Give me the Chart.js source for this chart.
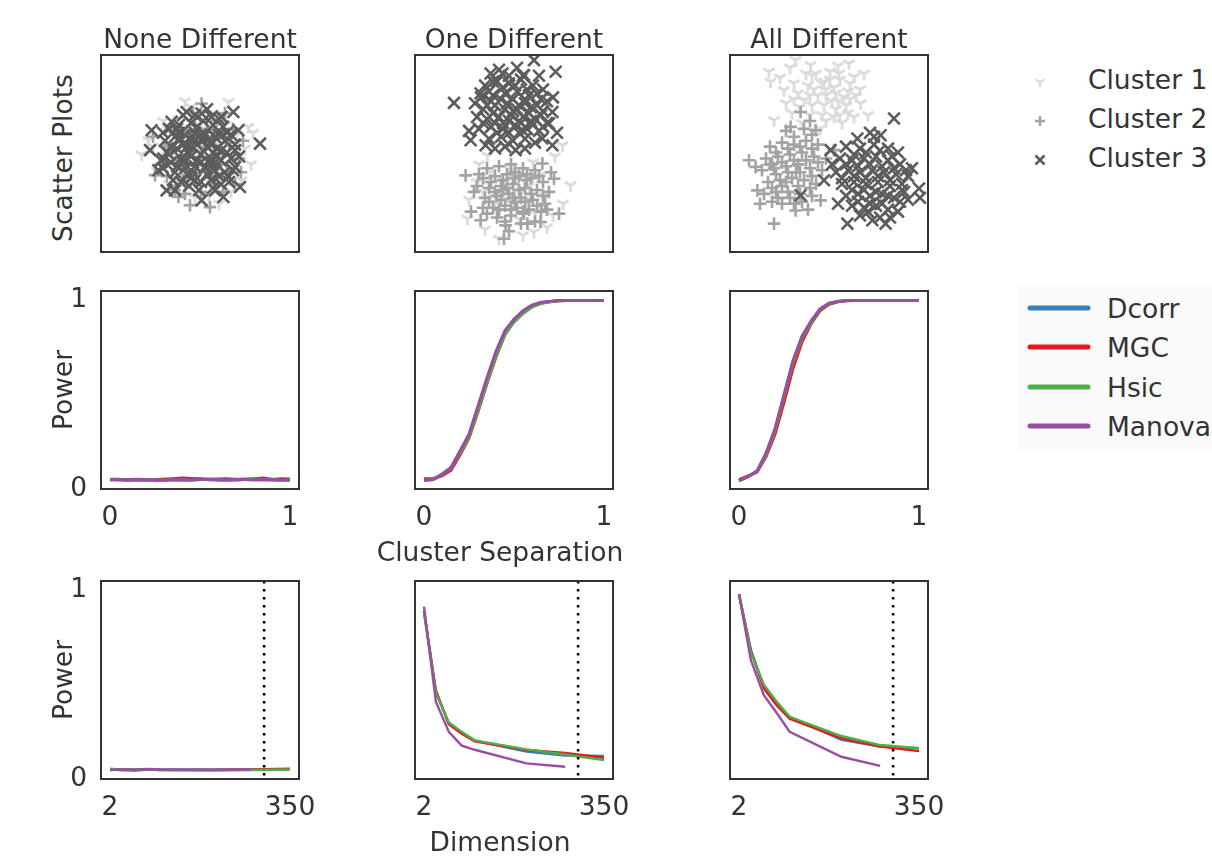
<!DOCTYPE html>
<html>
<head>
<meta charset="utf-8">
<script src="https://cdn.jsdelivr.net/npm/chart.js@4.4.1/dist/chart.umd.min.js"></script>
<style>
  body { margin: 0; background: #fff; width: 1212px; height: 857px; position: relative; overflow: hidden;
         font-family: "DejaVu Sans", sans-serif; color: #333; }
  canvas { position: absolute; }
  .lbl { position: absolute; font-size: 26.5px; white-space: nowrap; transform: translate(-50%, -50%); }
  .rot { transform: translate(-50%, -50%) rotate(-90deg); }
  .leg { position: absolute; font-size: 26.5px; white-space: nowrap; transform: translateY(-50%); }
  .legbox { position: absolute; left: 1018px; top: 284px; width: 200px; height: 168px; background: #fafafa; border-radius: 4px; }
  svg { position: absolute; overflow: visible; }
</style>
</head>
<body>
<div class="legbox"></div>
<script>
// ---- data ----
const colTitles = ['None Different', 'One Different', 'All Different'];
const clusterNames = ['Cluster 1', 'Cluster 2', 'Cluster 3'];
const methods = ['Dcorr', 'MGC', 'Hsic', 'Manova'];
const methodColors = ['#377eb8', '#e41a1c', '#4daf4a', '#984ea3'];

// scatter samples (x, y) per cluster
const none1 = [[1.37,2.57],[2.37,1.3],[-2.97,-0.1],[-2.63,0.63],[1.87,-0.22],[2.03,-1.41],[0.9,-2.6],[-0.5,2.3],[-1.9,1.6],[-1.6,-1.6],[0.4,-2.2],[2.2,0.2],[-2.2,-0.9],[1.2,1.4],[-0.9,0.8],[0.7,-0.9],[-0.2,-0.6],[0.2,1.1],[1.6,-0.8],[-1.4,0.1],[-0.6,-1.6],[1.0,0.4],[-1.1,1.7],[0.6,2.0],[2.5,-0.6],[-2.4,0.3],[-0.3,-2.3],[1.5,-2.0],[-1.0,-0.9],[0.1,0.0],[2.6,1.0],[-1.7,-0.2],[0.9,-1.4],[-0.8,2.6],[0.3,-1.2],[1.8,0.9]];
const none2 = [[0.03,2.49],[-2.3,-1.15],[-0.55,-2.68],[0.45,-2.77],[-1.13,-2.26],[-1.8,0.3],[1.9,-0.3],[1.3,-1.0],[-0.9,-1.4],[-1.5,1.3],[0.8,1.6],[1.6,1.2],[-0.3,1.4],[0.5,-1.2],[-2.0,-0.6],[2.1,0.6],[1.1,-2.0],[-1.3,-1.9],[0.2,0.3],[-0.6,0.5],[0.9,0.1],[-1.0,-0.4],[0.4,-0.6],[-0.2,-1.0],[1.4,0.5],[-1.2,0.9],[0.6,1.0],[-0.4,2.0],[1.2,2.0],[-2.4,0.8],[0.0,-2.0],[1.7,-1.6],[-0.8,-2.1],[2.0,-1.0],[-1.7,-1.2],[0.3,1.2],[-0.7,1.1],[1.0,-0.6],[-0.1,-0.3],[0.7,-1.6]];
const none3 = [[-2.47,1.13],[-1.47,1.56],[-0.72,2.06],[0.03,1.98],[1.62,2.06],[1.87,1.13],[2.95,0.45],[-2.55,0.12],[-1.88,-0.31],[-1.72,-1.92],[-1.3,-1.92],[0.03,-2.43],[1.12,-2.26],[1.95,-1.75],[1.7,0.12],[1.37,-1.24],[0.53,1.81],[-0.8,-0.39],[-2.13,-0.9],[1.7,-0.73],[1.03,1.81],[-0.3,-1.41],[-1.13,0.63],[0.7,-1.92],
  [-1.6,1.2],[-1.1,1.4],[-0.5,1.5],[0.1,1.6],[0.6,1.4],[1.1,1.3],[1.5,0.9],[-1.8,0.6],[-1.3,0.8],[-0.8,0.9],[-0.3,1.0],[0.2,0.9],[0.7,0.8],[1.2,0.6],
  [-1.7,0.0],[-1.2,0.2],[-0.7,0.3],[-0.2,0.4],[0.3,0.3],[0.8,0.2],[1.3,0.0],[-1.5,-0.5],[-1.0,-0.3],[-0.5,-0.2],[0.0,-0.1],[0.5,-0.3],[1.0,-0.4],[1.5,-0.3],
  [-1.3,-1.0],[-0.8,-0.8],[-0.3,-0.7],[0.2,-0.8],[0.7,-0.9],[1.2,-1.0],[-1.0,-1.5],[-0.5,-1.3],[0.0,-1.5],[0.5,-1.4],[1.0,-1.6],[-0.9,1.9],[-0.3,1.9],[0.3,2.2],[0.9,1.7],
  [-0.4,0.6],[0.4,-0.5],[-0.9,-0.5],[0.9,0.9],[-1.4,-1.4],[1.4,-1.5],[-1.9,1.0],[1.7,0.4],[-0.1,-1.9],[-0.6,-1.7],[0.6,-1.8],[-1.1,1.0],[0.1,0.6],[-0.2,-0.4],[0.6,0.0],[-0.6,0.0],[1.9,-0.2],[-2.0,-0.4],
  [-1.5,0.3],[-1.0,0.7],[-0.4,0.8],[0.4,0.7],[1.0,0.1],[-0.7,-1.1],[0.3,-1.1],[0.8,-0.2],[-1.2,-0.7],[0.0,0.9],[-0.9,0.4],[0.5,0.4],[1.3,1.0],[-1.6,-0.1],[0.0,-0.5],[-0.4,-1.0],[0.9,-1.2],[1.1,0.9],[-0.2,1.3],[-1.2,1.2],[0.6,-0.6],[-0.5,0.3],[1.6,-0.9],[-1.9,-0.8]];

const one1 = [[2.78,-1.66],[-2.38,-3.36],[0.95,-4.04],[-0.8,-4.38],[-1.38,-0.16],[2.37,0.37],[0.3,0.2],[-1.9,-1.5],[-1.0,-2.6],[0.2,-3.4],[1.5,-2.2],[0.9,-0.5],[-0.5,-1.4],[1.9,-3.2],[-1.5,-3.9],[-2.3,-2.4],[0.6,-2.6],[-0.2,-0.9],[1.2,-1.2],[-1.2,-1.0],[0.0,-1.9],[-0.8,-3.0],[1.6,-3.8],[-1.8,-0.6],[2.4,-2.6],[0.4,-4.2],[-0.4,-2.4],[1.0,-3.1],[-1.6,-2.0],[0.7,-1.7],[2.0,-0.2]];
const one2 = [[-2.47,-1.16],[-2.05,-2.0],[1.95,-1.33],[2.2,-3.1],[-1.72,-3.44],[-0.47,-3.7],[-0.55,-4.38],[0.62,-3.61],[1.28,-3.53],[1.37,-0.56],[0.45,-3.1],[-2.2,-3.0],
  [-1.4,-0.8],[-0.8,-0.7],[-0.2,-0.6],[0.4,-0.8],[1.0,-0.9],[-1.6,-1.3],[-1.0,-1.2],[-0.4,-1.1],[0.2,-1.2],[0.8,-1.3],[1.4,-1.5],
  [-1.3,-1.8],[-0.7,-1.7],[-0.1,-1.6],[0.5,-1.8],[1.1,-1.9],[1.7,-2.0],[-1.5,-2.3],[-0.9,-2.2],[-0.3,-2.1],[0.3,-2.3],[0.9,-2.4],[1.5,-2.6],
  [-1.1,-2.8],[-0.5,-2.7],[0.1,-2.8],[0.7,-2.9],[1.3,-3.0],[-0.9,-3.3],[-0.2,-3.2],[1.0,-3.5],[-1.4,-3.1],[-0.6,-1.9],[0.0,-2.5],[0.6,-1.4],[-1.9,-1.7],[1.8,-1.0],[-0.3,-4.0],
  [-1.2,-1.5],[-0.6,-1.4],[0.0,-1.3],[0.6,-1.1],[1.2,-1.2],[-1.0,-2.0],[-0.4,-1.8],[0.2,-1.9],[0.8,-2.1],[1.4,-2.2],[-1.3,-2.5],[-0.7,-2.4],[-0.1,-2.3],[0.5,-2.5],[1.1,-2.7],[-0.8,-2.9],[-0.2,-2.9],[0.4,-3.0],[1.6,-2.9],[-1.6,-2.8],[-0.5,-3.5],[0.3,-3.6],[-1.8,-1.1],[0.0,-1.0]];
const one3 = [[-3.05,2.52],[0.95,4.69],[2.03,4.1],[-0.63,4.01],[0.45,3.93],[-1.22,4.01],[-2.22,0.62],[-1.47,0.37],[1.37,0.71],[1.87,0.37],[0.03,0.12],[-1.72,3.0],[1.87,2.06],[1.7,1.47],
  [-1.5,3.4],[-0.9,3.6],[-0.3,3.5],[0.3,3.7],[0.9,3.4],[1.4,3.2],[-1.7,2.8],[-1.1,2.9],[-0.5,3.0],[0.1,3.1],[0.7,2.9],[1.3,2.7],
  [-1.6,2.2],[-1.0,2.4],[-0.4,2.5],[0.2,2.4],[0.8,2.3],[1.4,2.1],[-1.4,1.7],[-0.8,1.8],[-0.2,1.9],[0.4,1.8],[1.0,1.7],[1.6,1.5],
  [-1.8,1.2],[-1.2,1.3],[-0.6,1.2],[0.0,1.4],[0.6,1.2],[1.2,1.1],[-1.3,0.7],[-0.7,0.8],[-0.1,0.6],[0.5,0.7],[1.0,0.5],[-0.5,0.3],[0.5,0.2],[-1.0,0.2],
  [-1.9,1.8],[-2.0,2.5],[1.9,2.8],[-0.8,4.2],[0.1,4.3],[1.2,3.9],[-0.1,2.1],[0.5,2.7],[-0.6,1.5],[0.9,1.4],[-1.2,2.6],[0.2,1.0],[-0.3,3.9],[1.6,2.6],[-2.3,1.1],[2.1,1.0],
  [-1.3,3.1],[-0.6,3.3],[0.0,3.4],[0.6,3.2],[1.1,3.0],[-1.4,2.4],[-0.7,2.7],[-0.1,2.7],[0.5,2.5],[1.1,2.4],[-1.1,2.0],[-0.5,2.2],[0.1,2.2],[0.7,2.0],[1.3,1.9],[-1.6,1.5],[-1.0,1.5],[-0.3,1.6],[0.3,1.5],[0.8,1.6],[-0.9,1.0],[-0.3,1.0],[0.4,1.1],[1.4,1.3],[-1.1,3.6],[0.4,3.9]];

const all1 = [[-1.72,4.69],[-0.97,4.44],[0.95,4.52],[-3.05,4.1],[1.2,3.84],[-2.3,3.17],[-2.97,3.59],[-1.8,3.51],[-2.8,1.64],[1.53,2.49],[0.45,4.01],[-0.3,3.59],[-1.3,2.66],[0.2,1.81],
  [-0.9,3.9],[0.0,4.1],[-2.2,2.5],[-1.6,3.0],[-0.8,3.2],[0.2,3.3],[0.9,3.1],[1.5,3.2],[-1.9,2.0],[-0.9,2.4],[0.1,2.6],[0.8,2.4],[1.9,1.9],[-1.4,1.5],[-0.4,1.9],[0.6,1.5],
  [1.2,1.8],[-0.2,2.9],[0.5,3.7],[-1.2,4.0],[-2.5,3.8],[-0.5,1.2],[1.7,4.0],[0.9,2.0],[-0.6,2.9],[0.3,2.2],[-1.0,1.9],[1.3,2.9],[-2.0,4.3],[0.4,4.4],[-0.2,3.2],[0.7,2.8],
  [-1.1,3.4],[-0.4,3.5],[0.3,3.0],[1.0,2.7],[-1.5,2.3],[-0.3,2.4],[0.5,1.9],[-1.0,2.9],[0.0,3.7],[-0.7,4.0],[1.0,3.5],[-1.8,2.7],[0.4,2.6],[-0.2,1.6]];
const all2 = [[-4.05,-0.39],[-3.72,-0.73],[-1.47,2.06],[-1.97,1.3],[-0.72,1.13],[-2.8,-3.61],[-1.72,-2.94],[-3.63,-1.92],[0.2,0.12],[-0.47,-2.43],[-2.9,-2.5],
  [-3.0,0.3],[-2.4,0.5],[-1.8,0.4],[-1.2,0.6],[-0.6,0.4],[-3.2,-0.3],[-2.6,-0.2],[-2.0,-0.1],[-1.4,0.0],[-0.8,-0.2],[-0.2,-0.3],
  [-3.4,-0.9],[-2.8,-0.8],[-2.2,-0.7],[-1.6,-0.6],[-1.0,-0.8],[-0.4,-0.9],[-3.1,-1.5],[-2.5,-1.4],[-1.9,-1.3],[-1.3,-1.4],[-0.7,-1.6],
  [-3.3,-2.1],[-2.7,-2.0],[-2.1,-2.0],[-1.5,-2.1],[-0.9,-2.2],[-2.4,-2.6],[-1.8,-2.6],[-3.5,-2.6],[-1.1,-2.9],[-2.2,1.1],[-1.0,1.6],[-0.9,0.9],[-2.9,-0.6],[-1.7,-1.0],[-2.4,-1.7],
  [-2.7,0.0],[-2.1,0.2],[-1.5,0.3],[-0.9,0.2],[-3.0,-0.6],[-2.4,-0.5],[-1.8,-0.4],[-1.2,-0.4],[-0.6,-0.5],[-2.7,-1.1],[-2.1,-1.0],[-1.5,-1.0],[-0.9,-1.2],[-2.9,-1.8],[-2.2,-1.5],[-1.6,-1.7],[-1.0,-1.8],[-2.6,-2.3],[-2.0,-2.3],[-1.4,-2.5],[-1.8,0.8],[-1.3,1.2]];
const all3 = [[3.2,1.73],[-1.47,-2.17],[4.45,-1.83],[4.5,-2.3],[2.78,-3.61],[2.12,-3.44],[0.87,-3.61],[-0.3,-1.41],[0.03,0.12],[1.37,0.71],[2.53,0.88],[3.7,-2.0],[3.9,-2.4],
  [0.8,0.3],[1.5,0.2],[2.2,0.4],[2.9,0.2],[3.4,0.0],[0.5,-0.3],[1.1,-0.4],[1.7,-0.3],[2.3,-0.2],[2.9,-0.4],[3.5,-0.6],
  [0.3,-1.0],[0.9,-0.9],[1.5,-1.0],[2.1,-0.9],[2.7,-1.0],[3.3,-1.1],[3.9,-1.2],[0.6,-1.6],[1.2,-1.5],[1.8,-1.6],[2.4,-1.5],[3.0,-1.7],[3.6,-1.6],
  [0.8,-2.2],[1.4,-2.1],[2.0,-2.2],[2.6,-2.1],[3.2,-2.3],[1.1,-2.7],[1.7,-2.8],[2.3,-2.7],[2.9,-2.9],[3.4,-3.0],[1.5,-3.2],[2.5,-3.3],
  [0.1,-0.6],[4.1,-0.8],[2.0,1.0],[3.0,-3.3],[0.4,-2.6],
  [1.2,-0.1],[1.8,0.0],[2.5,0.1],[3.1,-0.2],[0.8,-0.6],[1.4,-0.7],[2.0,-0.6],[2.6,-0.7],[3.2,-0.8],[3.8,-0.9],[0.6,-1.3],[1.2,-1.2],[1.8,-1.3],[2.4,-1.2],[3.0,-1.4],[3.6,-1.9],[1.1,-1.9],[1.7,-1.9],[2.3,-2.0],[2.9,-2.2],[3.5,-2.5],[1.4,-2.5],[2.0,-2.6],[2.6,-2.6],[1.9,-3.0],[2.2,0.8]];

// power vs cluster separation
const sepX = [0,0.05,0.1,0.15,0.2,0.25,0.3,0.35,0.4,0.45,0.5,0.55,0.6,0.65,0.7,0.75,0.8,0.85,0.9,0.95,1];
const sepNone = [
  [0.05,0.052,0.048,0.05,0.047,0.05,0.053,0.05,0.048,0.05,0.052,0.049,0.05,0.047,0.05,0.052,0.05,0.048,0.05,0.051,0.048],
  [0.052,0.05,0.046,0.05,0.048,0.044,0.05,0.055,0.058,0.056,0.055,0.05,0.053,0.055,0.05,0.052,0.055,0.058,0.05,0.055,0.053],
  [0.048,0.05,0.044,0.046,0.045,0.046,0.048,0.047,0.046,0.047,0.05,0.05,0.046,0.045,0.047,0.05,0.052,0.05,0.046,0.045,0.047],
  [0.05,0.048,0.05,0.052,0.05,0.048,0.046,0.05,0.05,0.048,0.05,0.053,0.05,0.05,0.052,0.05,0.048,0.05,0.052,0.048,0.05]];
const sepOne = [
  [0.05,0.05,0.08,0.115,0.2,0.285,0.43,0.58,0.72,0.83,0.9,0.94,0.972,0.988,0.995,1,1,1,1,1,1],
  [0.055,0.055,0.07,0.1,0.18,0.27,0.41,0.56,0.7,0.82,0.89,0.935,0.968,0.985,0.993,0.998,1,1,1,1,1],
  [0.045,0.05,0.075,0.11,0.19,0.275,0.415,0.565,0.705,0.82,0.885,0.93,0.965,0.985,0.993,0.998,1,1,1,1,1],
  [0.045,0.05,0.075,0.11,0.2,0.29,0.44,0.59,0.73,0.84,0.9,0.945,0.975,0.99,0.995,1,1,1,1,1,1]];
const sepAll = [
  [0.045,0.065,0.095,0.185,0.315,0.49,0.675,0.805,0.885,0.952,0.984,0.995,1,1,1,1,1,1,1,1,1],
  [0.05,0.07,0.09,0.17,0.29,0.46,0.64,0.78,0.875,0.945,0.98,0.993,0.998,1,1,1,1,1,1,1,1],
  [0.045,0.065,0.093,0.18,0.31,0.49,0.67,0.8,0.88,0.95,0.983,0.995,1,1,1,1,1,1,1,1,1],
  [0.045,0.065,0.095,0.19,0.32,0.5,0.68,0.81,0.89,0.955,0.985,0.995,1,1,1,1,1,1,1,1,1]];

// power vs dimension
const dimX = [2,25,50,75,100,200,275,350];
const dimNone = [
  [0.05,0.048,0.05,0.053,0.05,0.049,0.05,0.051],
  [0.05,0.048,0.045,0.05,0.048,0.047,0.05,0.055],
  [0.055,0.05,0.048,0.05,0.047,0.045,0.048,0.05],
  [0.048,0.05,0.05,0.052,0.05,0.05,0.05,null]];
const dimOne = [
  [0.89,0.46,0.295,0.245,0.203,0.146,0.125,0.122],
  [0.89,0.47,0.29,0.24,0.2,0.154,0.138,0.113],
  [0.88,0.455,0.3,0.25,0.205,0.157,0.13,0.1],
  [0.914,0.41,0.25,0.177,0.155,0.083,0.065,null]];
const dimAll = [
  [0.98,0.684,0.49,0.4,0.33,0.207,0.172,0.163],
  [0.98,0.68,0.48,0.39,0.32,0.216,0.172,0.148],
  [0.98,0.67,0.5,0.41,0.33,0.228,0.18,0.163],
  [0.98,0.63,0.445,0.35,0.25,0.118,0.07,null]];
const dimCutoff = 300;

const sepTicks = [0, 1];
const dimTicks = [2, 350];
const powerTicks = [0, 1];

// ---- layout ----
const colLeft = [101, 415, 730];
const rowTop = [55, 291, 581];
const rowBottom = [252, 489, 779];
const panelW = 198;
const FONT = 'DejaVu Sans';
const TEXT = '#333';
const FSIZE = 26.5;

function makeCanvas(left, top, w, h) {
  const c = document.createElement('canvas');
  c.width = w; c.height = h;
  c.style.left = left + 'px'; c.style.top = top + 'px';
  c.style.width = w + 'px'; c.style.height = h + 'px';
  document.body.appendChild(c);
  return c;
}

function addText(txt, x, y, cls) {
  const d = document.createElement('div');
  d.className = cls || 'lbl';
  d.textContent = txt;
  d.style.left = x + 'px'; d.style.top = y + 'px';
  document.body.appendChild(d);
}

const framePlugin = {
  id: 'frame',
  afterDatasetsDraw(chart) {
    const a = chart.chartArea, ctx = chart.ctx;
    ctx.save();
    ctx.strokeStyle = '#333';
    ctx.lineWidth = 2;
    ctx.strokeRect(a.left, a.top, a.right - a.left, a.bottom - a.top);
    ctx.restore();
  }
};

// matplotlib style "tri_down" marker
function triDown(color, size, lw) {
  const c = document.createElement('canvas');
  c.width = c.height = size;
  const g = c.getContext('2d');
  const m = size / 2, r = size / 2 - 1;
  g.strokeStyle = color; g.lineWidth = lw;
  g.beginPath();
  g.moveTo(m, m); g.lineTo(m, m + r);
  g.moveTo(m, m); g.lineTo(m - r * 0.866, m - r * 0.5);
  g.moveTo(m, m); g.lineTo(m + r * 0.866, m - r * 0.5);
  g.stroke();
  return c;
}

const c1Color = '#d9d9d9', c2Color = '#a3a3a3', c3Color = '#5c5c5c';
const triImg = triDown(c1Color, 15, 2.6);

const toXY = pts => pts.map(p => ({ x: p[0], y: p[1] }));

function scatterPanel(col, sets) {
  const pad = 10;
  const h = rowBottom[0] - rowTop[0];
  const cv = makeCanvas(colLeft[col] - pad, rowTop[0] - pad, panelW + 2 * pad, h + 2 * pad);
  new Chart(cv, {
    type: 'scatter',
    data: {
      datasets: [
        { label: clusterNames[0], data: toXY(sets[0]), pointStyle: triImg, pointRadius: 7, order: 3 },
        { label: clusterNames[1], data: toXY(sets[1]), pointStyle: 'cross', pointRadius: 6.3,
          pointBorderWidth: 2.6, pointBorderColor: c2Color, order: 2 },
        { label: clusterNames[2], data: toXY(sets[2]), pointStyle: 'crossRot', pointRadius: 8.3,
          pointBorderWidth: 2.6, pointBorderColor: c3Color, order: 1 }
      ]
    },
    options: {
      responsive: false, animation: false, events: [],
      layout: { padding: pad, autoPadding: false },
      scales: {
        x: { type: 'linear', min: -5, max: 4.9, display: false },
        y: { type: 'linear', min: -5.05, max: 4.95, display: false }
      },
      plugins: { legend: { display: false }, tooltip: { enabled: false } }
    },
    plugins: [framePlugin]
  });
}

function linePanel(row, col, xs, ys, xTicks, xMin, xMax, lw, cutoff) {
  const padL = 60, padR = 45, padT = 30, padB = 60;
  const h = rowBottom[row] - rowTop[row];
  const cv = makeCanvas(colLeft[col] - padL, rowTop[row] - padT, padL + panelW + padR, padT + h + padB);
  const datasets = methods.map((m, i) => ({
    label: m,
    data: xs.map((x, j) => ({ x: x, y: ys[i][j] })),
    borderColor: methodColors[i],
    borderWidth: lw,
    pointRadius: 0,
    tension: 0,
    fill: false,
    order: 4 - i
  }));
  if (cutoff !== undefined) {
    datasets.push({
      label: 'cutoff',
      data: [{ x: cutoff, y: 1.05 }, { x: cutoff, y: 0 }],
      borderColor: '#000', borderWidth: 2.6, borderDash: [2.6, 5.4],
      pointRadius: 0, order: 0
    });
  }
  const tickFont = { family: FONT, size: FSIZE };
  new Chart(cv, {
    type: 'line',
    data: { datasets },
    options: {
      responsive: false, animation: false, events: [],
      layout: { padding: { left: 0, right: padR, top: padT, bottom: 0 }, autoPadding: false },
      scales: {
        x: {
          type: 'linear', min: xMin, max: xMax,
          afterBuildTicks: s => { s.ticks = xTicks.map(v => ({ value: v })); },
          afterFit: s => { s.height = padB; },
          grid: { display: false, drawTicks: false }, border: { display: false },
          ticks: { padding: 13, maxRotation: 0, autoSkip: false,
                   font: tickFont, color: TEXT, callback: v => String(v) }
        },
        y: {
          type: 'linear', min: 0, max: 1.05,
          afterBuildTicks: s => { s.ticks = powerTicks.map(v => ({ value: v })); },
          afterFit: s => { s.width = padL; },
          grid: { display: false, drawTicks: false }, border: { display: false },
          ticks: { display: col === 0, padding: 14, font: tickFont, color: TEXT, callback: v => String(v) }
        }
      },
      plugins: { legend: { display: false }, tooltip: { enabled: false } }
    },
    plugins: [framePlugin]
  });
}

// row 1: scatter plots
scatterPanel(0, [none1, none2, none3]);
scatterPanel(1, [one1, one2, one3]);
scatterPanel(2, [all1, all2, all3]);

// row 2: power vs cluster separation
linePanel(1, 0, sepX, sepNone, sepTicks, -0.05, 1.05, 3);
linePanel(1, 1, sepX, sepOne, sepTicks, -0.05, 1.05, 3);
linePanel(1, 2, sepX, sepAll, sepTicks, -0.05, 1.05, 3);

// row 3: power vs dimension
linePanel(2, 0, dimX, dimNone, dimTicks, -15.4, 367.4, 2.4, dimCutoff);
linePanel(2, 1, dimX, dimOne, dimTicks, -15.4, 367.4, 2.4, dimCutoff);
linePanel(2, 2, dimX, dimAll, dimTicks, -15.4, 367.4, 2.4, dimCutoff);

// ---- labels ----
colTitles.forEach((t, i) => addText(t, colLeft[i] + panelW / 2, 38));
addText('Scatter Plots', 62, 158, 'lbl rot');
addText('Power', 62, 390, 'lbl rot');
addText('Power', 62, 680, 'lbl rot');
addText('Cluster Separation', 500, 551);
addText('Dimension', 500, 841);

// ---- legends ----
const NS = 'http://www.w3.org/2000/svg';
const legY1 = [79, 118, 157];
const markerSvg = [
  `<path d="M0 0 L0 5 M0 0 L-4.3 -2.5 M0 0 L4.3 -2.5" stroke="${c1Color}" stroke-width="2.5" fill="none"/>`,
  `<path d="M-5 0 L5 0 M0 -5 L0 5" stroke="${c2Color}" stroke-width="2.5" fill="none"/>`,
  `<path d="M-4.5 -4.5 L4.5 4.5 M-4.5 4.5 L4.5 -4.5" stroke="${c3Color}" stroke-width="2.5" fill="none"/>`
];
clusterNames.forEach((name, i) => {
  const s = document.createElementNS(NS, 'svg');
  s.setAttribute('width', 20); s.setAttribute('height', 20);
  s.setAttribute('viewBox', '-10 -10 20 20');
  s.style.left = (1040 - 10) + 'px'; s.style.top = (legY1[i] + 3 - 10) + 'px';
  s.innerHTML = markerSvg[i];
  document.body.appendChild(s);
  addText(name, 1088, legY1[i], 'leg');
});

const legY2 = [308, 347, 387, 426];
methods.forEach((name, i) => {
  const s = document.createElementNS(NS, 'svg');
  s.setAttribute('width', 70); s.setAttribute('height', 10);
  s.style.left = '1025px'; s.style.top = (legY2[i] - 5) + 'px';
  s.innerHTML = `<line x1="5" y1="5" x2="63" y2="5" stroke="${methodColors[i]}" stroke-width="5" stroke-linecap="round"/>`;
  document.body.appendChild(s);
  addText(name, 1107, legY2[i], 'leg');
});
</script>
</body>
</html>
